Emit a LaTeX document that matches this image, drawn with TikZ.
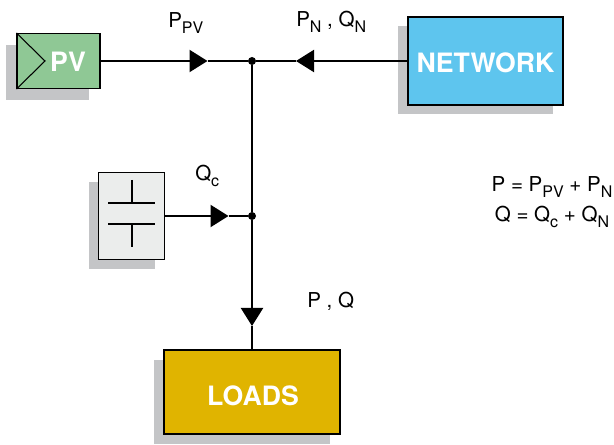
\documentclass[tikz,border=0pt]{standalone}
\usepackage{fontspec}
\setmainfont{TeX Gyre Heros}
\usetikzlibrary{arrows.meta,shadows}
\definecolor{verdepv}{HTML}{8FC895}
\definecolor{azulred}{HTML}{5EC5EE}
\definecolor{griscap}{HTML}{EBEDEC}
\definecolor{orocarga}{HTML}{E0B400}
\definecolor{grissombra}{HTML}{C4C5C7}
\def\px{0.75pt}
\newcommand{\subt}[1]{\raisebox{-4pt}{\fontsize{12}{12}\selectfont #1}}
\tikzset{
    bloque/.style={draw=black, line width=0.8pt, inner sep=0pt, font=\fontsize{20}{20}\selectfont\bfseries, text=white},
    sombra/.style 2 args={copy shadow={shadow xshift=#1, shadow yshift=#2, fill=grissombra, draw=none, opacity=1}},
    linea/.style={line width=1.6pt},
    flujo/.style={linea, -{Triangle[length=13.5pt,width=16.5pt]}},
    punto/.style={circle, fill=black, inner sep=0pt, minimum size=6pt},
    etiqueta/.style={anchor=base west, inner sep=0pt, font=\fontsize{15.4}{15.4}\selectfont},
    formula/.style={anchor=base, inner sep=0pt, font=\fontsize{15.4}{15.4}\selectfont}
}
\begin{document}
\begin{tikzpicture}[x=\px, y=-\px]
    \useasboundingbox (0,0) rectangle (614,445);

    % bloques
    \node[bloque, sombra={-8.25pt}{-9pt}, fill=verdepv, minimum width=83*\px, minimum height=55*\px] (pv) at (58.5,61) {};
    \node[bloque, sombra={-7.5pt}{-7pt}, fill=azulred, minimum width=155*\px, minimum height=88*\px] (network) at (485.5,61) {};
    \node[bloque, sombra={-7.2pt}{-7.5pt}, fill=griscap, minimum width=65.5*\px, minimum height=87*\px] (cap) at (131.5,216) {};
    \node[bloque, sombra={-7.5pt}{-7.5pt}, fill=orocarga, minimum width=176*\px, minimum height=84*\px] (loads) at (252,392) {};
    \node[bloque, draw=none] (pvtxt) at (68,61.5) {PV};
    \node[bloque, draw=none] (nettxt) at (485.5,62.5) {NETWORK};
    \node[bloque, draw=none] (loadstxt) at (253,396) {LOADS};

    % uniones
    \node[punto] (j1) at (252,61) {};
    \node[punto] (j2) at (252,216) {};

    % puntas de las flechas
    \coordinate (tpv) at (207.5,61);
    \coordinate (tnet) at (296,61);
    \coordinate (tcap) at (228.5,216);
    \coordinate (tload) at (252,326);

    % flechas hacia las uniones
    \draw[flujo] (pv) -- (tpv);
    \draw[linea] (tpv) -- (j1);
    \draw[flujo] (network) -- (tnet);
    \draw[linea] (tnet) -- (j1);
    \draw[flujo] (cap) -- (tcap);
    \draw[linea] (tcap) -- (j2);

    % barra vertical
    \draw[linea] (j1) -- (j2);
    \draw[flujo] (j2) -- (tload);
    \draw[linea] (tload) -- (loads);

    % simbolo PV
    \coordinate (pvtip) at (45,61);
    \draw[line width=0.8pt] (pv.north west) -- (pvtip) -- (pv.south west);

    % condensador
    \draw[linea] (108,203) -- (155,203);
    \draw[linea] (108,224) -- (155,224);
    \draw[line width=1.2pt] (132,180) -- (132,203);
    \draw[line width=1.2pt] (132,224) -- (132,247);

    % etiquetas
    \node[etiqueta] (lpv) at (168,28) {P\subt{PV}};
    \node[etiqueta] (lnet) at (296,27) {P\subt{N} , Q\subt{N}};
    \node[etiqueta] (lcap) at (195,181) {Q\subt{c}};
    \node[etiqueta] (lload) at (307,308) {P , Q};

    % balance
    \node[formula] (eqp) at (552,192) {P = P\subt{PV} + P\subt{N}};
    \node[formula] (eqq) at (552,222) {Q = Q\subt{c} + Q\subt{N}};
\end{tikzpicture}
\end{document}
